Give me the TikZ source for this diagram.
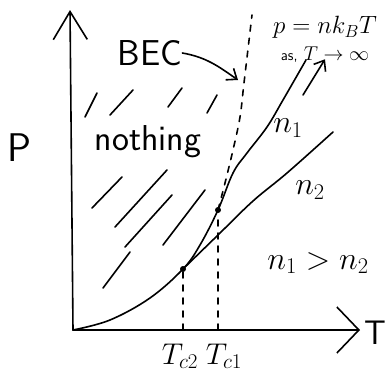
\RequirePackage{fix-cm}
\documentclass[tikz,border=0pt]{standalone}
\usepackage{amsmath,amssymb}
\usepackage{tikz}
\usetikzlibrary{arrows.meta, positioning, calc}

\begin{document}
\begin{tikzpicture}[
  x=1pt, y=-1pt,
  pen/.style={line width=1.6pt, line cap=round, line join=round},
  axis/.style={pen, -{Straight Barb[length=28pt, width=34pt, line width=1.6pt]}},
  xaxis/.style={pen, -{Straight Barb[length=22pt, width=46pt, line width=1.6pt]}},
  hint/.style={pen, -{Straight Barb[length=9pt, width=14pt, line width=1.6pt]}},
  guide/.style={pen, dash pattern=on 6pt off 7pt},
  hatch/.style={pen},
  label/.style={inner sep=0pt, font=\fontsize{32}{38}\selectfont},
  dot/.style={circle, fill, inner sep=0pt, minimum size=6pt}
]
  \useasboundingbox (0,0) rectangle (386,381);

  % axes
  \coordinate (O)    at (73,330);
  \coordinate (ytop) at (70,10);
  \coordinate (xend) at (360,330);
  \draw[axis]  (O) -- (ytop);
  \draw[xaxis] (O) -- (xend);

  \node[label, font=\fontsize{40}{46}\sffamily] (P) at (20,148) {P};
  \node[label, anchor=west, font=\fontsize{34}{40}\sffamily] (T) at (364,333) {T};

  % transition points
  \node[dot] (c2) at (183,269) {};
  \node[dot] (c1) at (218,210) {};
  \coordinate (c2foot) at (183,330);
  \coordinate (c1foot) at (218,330);
  \coordinate (n1end) at (306,60);
  \coordinate (n2end) at (333,132);
  \coordinate (bectop) at (252,15);

  % isochores
  \draw[pen] plot[smooth, tension=0.6] coordinates
    {(O) (110,320) (150,298) (c2) (200,245) (c1) (233,173) (247,153) (267,127) (283,100) (n1end)};
  \draw[pen] plot[smooth, tension=0.6] coordinates
    {(c2) (218,235) (253,201) (287,173) (n2end)};

  % T_c guides and BEC line
  \draw[guide] (c2foot) -- (c2);
  \draw[guide] (c1foot) -- (c1);
  \draw[guide] plot[smooth, tension=0.6] coordinates
    {(c1) (225,183) (233,150) (240,117) (244,83) (bectop)};

  \node[label, font=\fontsize{30}{34}\selectfont] (Tc2) at (180,356) {$T_{c2}$};
  \node[label, font=\fontsize{30}{34}\selectfont] (Tc1) at (224,356) {$T_{c1}$};

  % labels
  \node[label, font=\fontsize{36}{42}\sffamily] (bec) at (150,53) {BEC};
  \coordinate (becpt) at (238,80);
  \draw[hint] (bec.east) to[out=-10, in=145] (becpt);

  \node[label, font=\fontsize{25}{29}\selectfont] (ideal) at (325,27) {$p=nk_BT$};
  \node[label, font=\fontsize{20}{24}\selectfont, below=8pt of ideal] (limit)
    {\fontsize{15}{18}\sffamily as,\fontsize{20}{24}\selectfont\ $T\to\infty$};
  \coordinate (hintfoot) at (303,95);
  \draw[hint] (hintfoot) -- ($(limit.south)+(0,-3)$);

  \node[label] (n1) at (288,128) {$n_1$};
  \node[label] (n2) at (310,190) {$n_2$};
  \node[label] (ineq) at (318,263) {$n_1 > n_2$};

  \node[label, font=\fontsize{36}{42}\sffamily] (nothing) at (148,142) {nothing};

  % forbidden region
  \foreach \a/\b in {{85,117}/{97,93}, {110,115}/{133,90}, {168,107}/{182,88},
                     {207,113}/{217,95}, {92,208}/{122,177}, {115,227}/{167,170},
                     {125,247}/{172,195}, {163,245}/{205,190}, {103,288}/{130,252}}
    \draw[hatch] (\a) -- (\b);
\end{tikzpicture}
\end{document}
